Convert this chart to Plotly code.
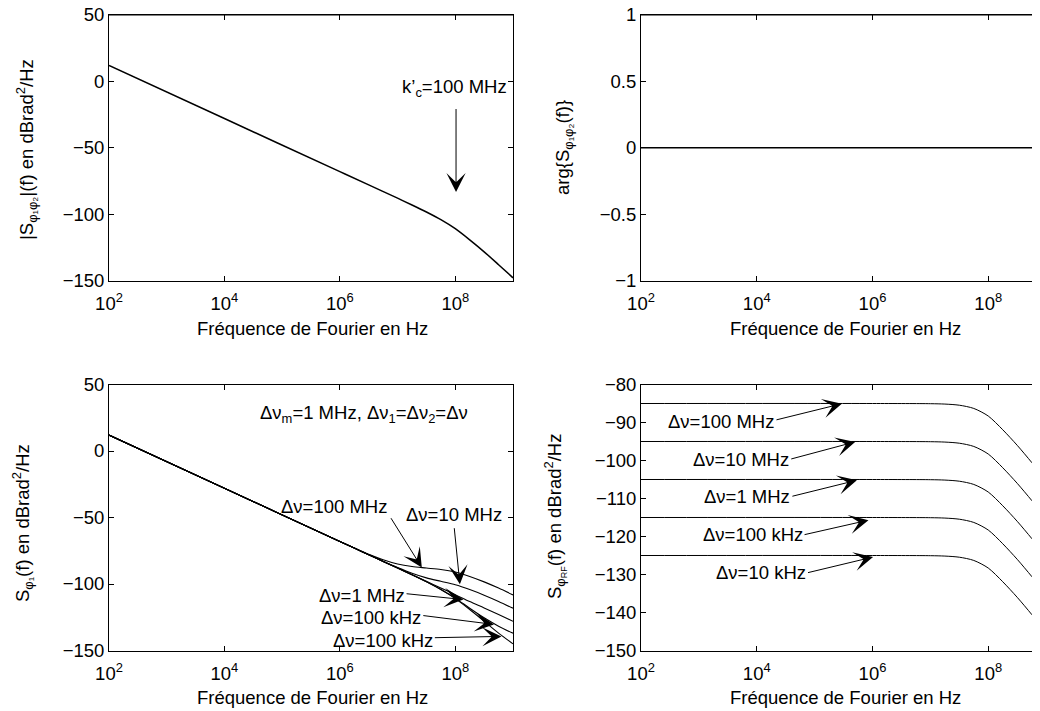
import plotly.graph_objects as go

FONT = "Liberation Sans, Arial, Helvetica, sans-serif"
FS = 18.5

# ---------------- data ----------------
# Top-left : |S_phi1phi2|(f) in dBrad^2/Hz
f_mag = [1e2, 1e4, 1e6, 3.162e6, 1e7, 1.778e7, 3.162e7, 5.623e7, 1e8, 1.778e8, 3.162e8, 5.623e8, 1e9]
s_mag = [12.0, -28.0, -68.0, -78.0, -88.0, -93.1, -98.4, -104.2, -111.0, -119.4, -128.4, -138.1, -148.0]

# Top-right : arg{S_phi1phi2(f)}
f_arg = [1e2, 1e9]
s_arg = [0.0, 0.0]

# Bottom-left : S_phi1(f) for several linewidths
f_phi = [1e2, 1e4, 1e6, 1.778e6, 3.162e6, 5.623e6, 1e7, 1.778e7, 3.162e7, 5.623e7, 1e8, 1.778e8, 3.162e8, 5.623e8, 1e9]
s_phi_100M = [12.0, -28.0, -68.0, -72.9, -77.6, -81.8, -85.0, -86.9, -88.0, -89.1, -91.0, -94.3, -98.4, -103.1, -108.2]
s_phi_10M = [12.0, -28.0, -68.0, -73.0, -78.0, -82.9, -87.6, -91.9, -95.4, -98.0, -100.6, -104.2, -108.4, -113.1, -118.2]
s_phi_1M = [12.0, -28.0, -68.0, -73.0, -78.0, -83.0, -88.0, -93.0, -98.0, -103.0, -108.0, -113.2, -118.0, -123.0, -128.0]
s_phi_100k = [12.0, -28.0, -68.0, -73.0, -78.0, -83.0, -88.0, -93.1, -98.4, -104.1, -110.6, -118.2, -125.4, -131.7, -137.0]
s_phi_10k = [12.0, -28.0, -68.0, -73.0, -78.0, -83.0, -88.0, -93.1, -98.4, -104.2, -111.0, -119.2, -128.0, -136.9, -145.0]

# Bottom-right : S_phiRF(f)
f_rf = [1e2, 1e6, 1e7, 1.778e7, 3.162e7, 5.623e7, 1e8, 1.778e8, 3.162e8, 5.623e8, 1e9]
s_rf_100M = [-85.0, -85.0, -85.05, -85.15, -85.45, -86.3, -88.3, -91.9, -96.0, -100.5, -105.3]
s_rf_10M = [-95.0, -95.0, -95.05, -95.15, -95.45, -96.3, -98.3, -101.9, -106.0, -110.5, -115.3]
s_rf_1M = [-105.0, -105.0, -105.05, -105.15, -105.45, -106.3, -108.3, -111.9, -116.0, -120.5, -125.3]
s_rf_100k = [-115.0, -115.0, -115.05, -115.15, -115.45, -116.3, -118.3, -121.9, -126.0, -130.5, -135.3]
s_rf_10k = [-125.0, -125.0, -125.05, -125.15, -125.45, -126.3, -128.3, -131.9, -136.0, -140.5, -145.3]

x_tickvals = [1e2, 1e4, 1e6, 1e8]
x_ticktext = ["10<sup>2</sup>", "10<sup>4</sup>", "10<sup>6</sup>", "10<sup>8</sup>"]
y_mag_ticks = [-150, -100, -50, 0, 50]
y_arg_ticks = [-1, -0.5, 0, 0.5, 1]
y_arg_text = ["\u22121", "\u22120.5", "0", "0.5", "1"]
y_rf_ticks = [-150, -140, -130, -120, -110, -100, -90, -80]

bl_labels = ["\u0394\u03bd=100 MHz", "\u0394\u03bd=10 MHz", "\u0394\u03bd=1 MHz",
             "\u0394\u03bd=100 kHz", "\u0394\u03bd=100 kHz"]
br_labels = ["\u0394\u03bd=100 MHz", "\u0394\u03bd=10 MHz", "\u0394\u03bd=1 MHz",
             "\u0394\u03bd=100 kHz", "\u0394\u03bd=10 kHz"]

# ---------------- figure ----------------
OFF = 8  # page body margin
W, H = 1040 - OFF, 711 - OFF


def PX(px):
    return (px - OFF) / W


def PY(py):
    return 1 - (py - OFF) / H


fig = go.Figure()

fig.add_trace(go.Scatter(x=f_mag, y=s_mag, mode="lines",
                         line=dict(color="black", width=1.5, shape="spline", smoothing=0.8),
                         xaxis="x", yaxis="y"))
fig.add_trace(go.Scatter(x=f_arg, y=s_arg, mode="lines", line=dict(color="black", width=1.5),
                         xaxis="x2", yaxis="y2"))
for s in [s_phi_100M, s_phi_10M, s_phi_1M, s_phi_100k, s_phi_10k]:
    fig.add_trace(go.Scatter(x=f_phi, y=s, mode="lines",
                             line=dict(color="black", width=1.1, shape="spline", smoothing=0.8),
                             xaxis="x3", yaxis="y3"))
for s in [s_rf_100M, s_rf_10M, s_rf_1M, s_rf_100k, s_rf_10k]:
    fig.add_trace(go.Scatter(x=f_rf, y=s, mode="lines",
                             line=dict(color="black", width=1.0, shape="spline", smoothing=0.8),
                             xaxis="x4", yaxis="y4"))

XL = [PX(109), PX(513)]
XR = [PX(641), 1.0]
YT = [PY(280.5), PY(15)]
YB = [PY(650.5), PY(384.5)]

tickfont = dict(family=FONT, size=FS, color="black")


def xax(domain, anchor, rng):
    return dict(domain=domain, anchor=anchor, type="log", range=rng, tickvals=x_tickvals,
                ticktext=x_ticktext, ticks="inside", ticklen=5, tickcolor="black",
                showline=True, linecolor="black", linewidth=1, mirror="ticks",
                showgrid=False, zeroline=False, tickfont=tickfont, automargin=False,
                ticklabelstandoff=6, ticklabeloverflow="allow")


def yax(domain, anchor, rng, tickvals, ticktext=None, mirror="ticks"):
    d = dict(domain=domain, anchor=anchor, range=rng, tickvals=tickvals,
             ticks="inside", ticklen=5, tickcolor="black",
             showline=True, linecolor="black", linewidth=1, mirror=mirror,
             showgrid=False, zeroline=False, tickfont=tickfont, automargin=False,
             ticklabeloverflow="allow")
    if ticktext is not None:
        d["ticktext"] = ticktext
    return d


fig.update_layout(
    width=W, height=H, margin=dict(l=0, r=0, t=0, b=0),
    paper_bgcolor="white", plot_bgcolor="white", showlegend=False,
    font=dict(family=FONT, size=FS, color="black"),
    xaxis=xax(XL, "y", [2, 9]),
    yaxis=yax(YT, "x", [-150, 50], y_mag_ticks),
    xaxis2=xax(XR, "y2", [2, 8.894]),
    yaxis2=yax(YT, "x2", [-1, 1], y_arg_ticks, y_arg_text, mirror=False),
    xaxis3=xax(XL, "y3", [2, 9]),
    yaxis3=yax(YB, "x3", [-150, 50], y_mag_ticks),
    xaxis4=xax(XR, "y4", [2, 8.894]),
    yaxis4=yax(YB, "x4", [-150, -80], y_rf_ticks, mirror=False),
)

# top frame lines and top ticks of the upper row (drawn explicitly)
shapes = []
for (x0, x1), xr in [((PX(109), PX(513)), "x"), ((PX(641), 1.0), "x2")]:
    shapes.append(dict(type="line", xref="paper", yref="paper", x0=x0, x1=x1,
                       y0=PY(15), y1=PY(15), line=dict(color="black", width=1)))
    for lv in [4, 6, 8]:
        shapes.append(dict(type="line", xref=xr, yref="paper", x0=lv, x1=lv,
                           y0=PY(15), y1=PY(20), line=dict(color="black", width=1)))
fig.update_layout(shapes=shapes)

ann = []
afont = dict(family=FONT, size=FS, color="black")


def txt(x, y, text, xref, yref, **kw):
    d = dict(x=x, y=y, text=text, xref=xref, yref=yref, showarrow=False,
             xanchor="center", yanchor="middle", font=afont)
    d.update(kw)
    ann.append(d)


def arrow(x0, y0, x1, y1, xref, yref):
    ann.append(dict(x=x1, y=y1, ax=x0, ay=y0, xref=xref, yref=yref, axref=xref, ayref=yref,
                    text="", showarrow=True, arrowhead=3, arrowsize=3.2, arrowwidth=1,
                    arrowcolor="black", standoff=0, startstandoff=0))


# axis titles (paper coords)
xtitle = "Fr\u00e9quence de Fourier en Hz"
txt(PX(312), PY(328), xtitle, "paper", "paper")
txt(PX(845), PY(328), xtitle, "paper", "paper")
txt(PX(312), PY(697), xtitle, "paper", "paper")
txt(PX(845), PY(697), xtitle, "paper", "paper")

txt(PX(26), PY(150), "|S<sub>\u03c6\u2081\u03c6\u2082</sub>|(f) en dBrad<sup>2</sup>/Hz",
    "paper", "paper", textangle=-90)
txt(PX(564), PY(148), "arg{S<sub>\u03c6\u2081\u03c6\u2082</sub>(f)}",
    "paper", "paper", textangle=-90)
txt(PX(22), PY(523), "S<sub>\u03c6\u2081</sub>(f) en dBrad<sup>2</sup>/Hz",
    "paper", "paper", textangle=-90)
txt(PX(555), PY(517), "S<sub>\u03c6<sub>RF</sub></sub>(f) en dBrad<sup>2</sup>/Hz",
    "paper", "paper", textangle=-90)

# top-left annotation
txt(7.99, -5.0, "k\u2019<sub>c</sub>=100 MHz", "x", "y")
arrow(8.013, -19.7, 8.013, -83.4, "x", "y")

# bottom-left annotations
txt(6.41, 27.5, "\u0394\u03bd<sub>m</sub>=1 MHz, \u0394\u03bd<sub>1</sub>=\u0394\u03bd<sub>2</sub>=\u0394\u03bd", "x3", "y3")
bl_text_pos = [(5.90, -41.8), (7.97, -48.1), (6.38, -108.5), (6.54, -124.9), (6.74, -142.5)]
bl_arrows = [(6.87, -49.4, 7.42, -87.6), (7.98, -56.9, 8.08, -100.2), (7.13, -107.2, 8.14, -111.7),
             (7.42, -123.6, 8.67, -130.4), (7.62, -140.4, 8.80, -139.4)]
for lab, (tx, ty), (a0, b0, a1, b1) in zip(bl_labels, bl_text_pos, bl_arrows):
    txt(tx, ty, lab, "x3", "y3")
    arrow(a0, b0, a1, b1, "x3", "y3")

# bottom-right annotations
br_text_pos = [(3.39, -89.7), (3.73, -99.75), (3.83, -109.5), (3.93, -119.6), (4.08, -129.6)]
br_arrows = [(4.315, -89.4, 5.47, -85.06), (4.57, -99.7, 5.70, -95.1), (4.59, -109.5, 5.73, -105.2),
             (4.80, -119.6, 5.93, -115.7), (4.86, -129.6, 6.01, -125.4)]
for lab, (tx, ty), (a0, b0, a1, b1) in zip(br_labels, br_text_pos, br_arrows):
    txt(tx, ty, lab, "x4", "y4")
    arrow(a0, b0, a1, b1, "x4", "y4")

fig.update_layout(annotations=ann)
fig.write_html("out.html")
